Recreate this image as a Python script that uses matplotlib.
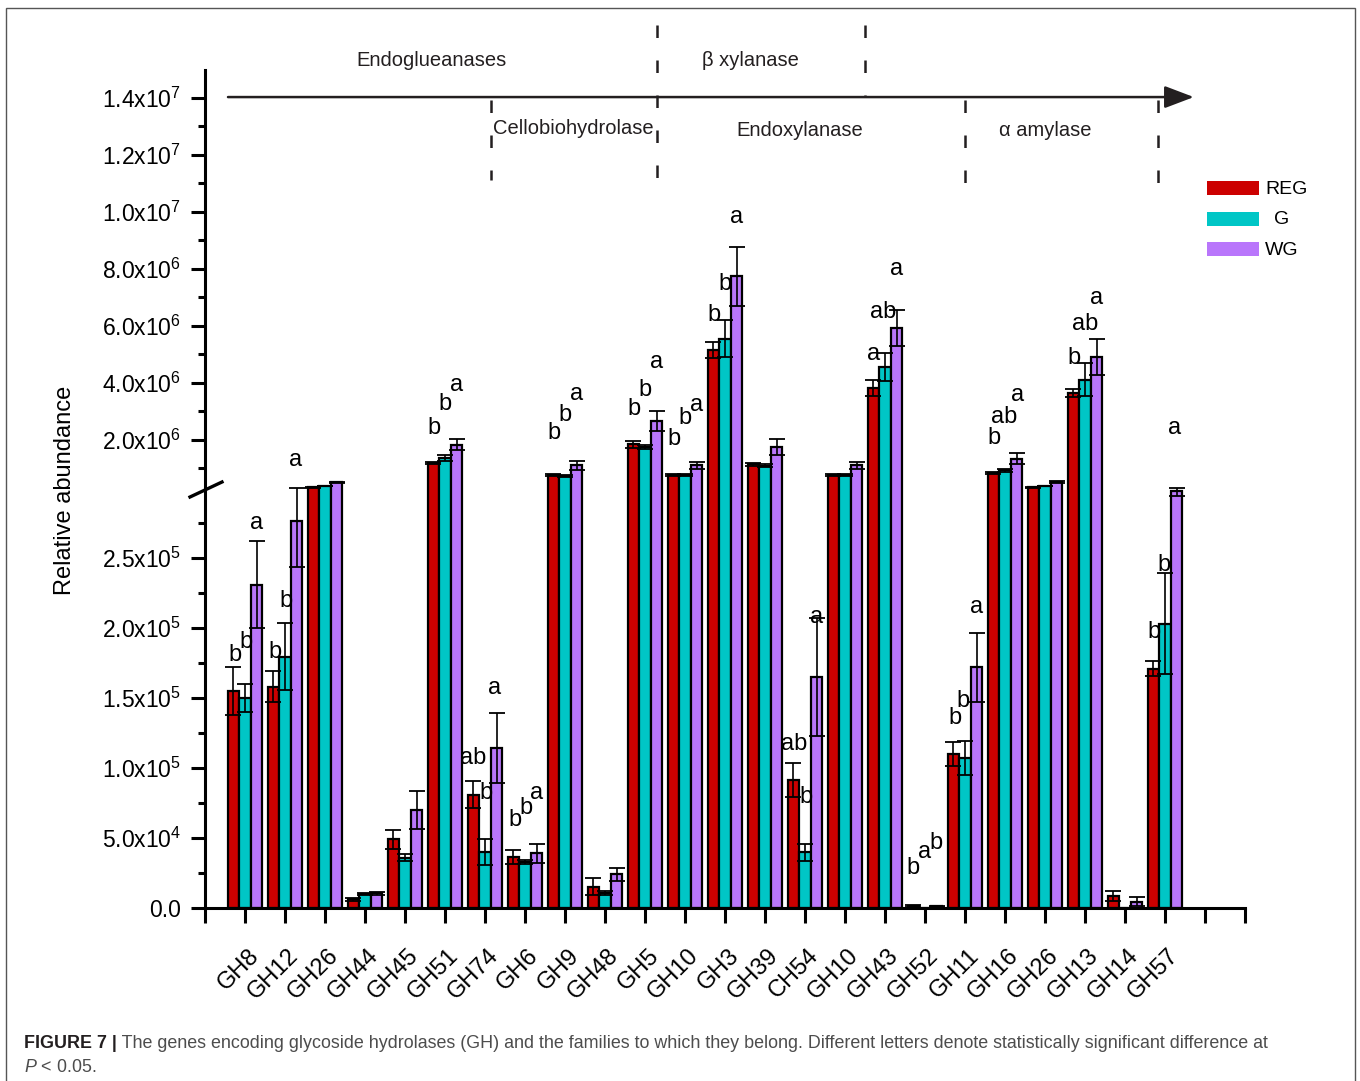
import numpy as np
import matplotlib
matplotlib.use('Agg')
import matplotlib.pyplot as plt
from matplotlib import font_manager, transforms
from matplotlib.patches import Rectangle
from matplotlib.lines import Line2D

plt.rcParams['font.family'] = ['Liberation Sans', 'DejaVu Sans']
plt.rcParams['mathtext.fontset'] = 'custom'
plt.rcParams['mathtext.rm'] = 'Liberation Sans'
plt.rcParams['mathtext.it'] = 'Liberation Sans:italic'
plt.rcParams['mathtext.bf'] = 'Liberation Sans:bold'

# data
genes = ['GH8', 'GH12', 'GH26', 'GH44', 'GH45', 'GH51', 'GH74', 'GH6', 'GH9', 'GH48',
         'GH5', 'GH10', 'GH3', 'GH39', 'CH54', 'GH10', 'GH43', 'GH52', 'GH11', 'GH16',
         'GH26', 'GH13', 'GH14', 'GH57']
reg = [155e3, 158e3, 0.33e6, 6.2e3, 49e3, 1.19e6, 81e3, 36.7e3, 0.75e6, 15.2e3,
       1.83e6, 0.77e6, 5.13e6, 1.13e6, 91.4e3, 0.77e6, 3.81e6, 1.5e3, 110e3, 0.84e6,
       0.33e6, 3.64e6, 8.6e3, 171e3]
reg_err = [17e3, 11e3, 0.015e6, 1e3, 6.5e3, 0.04e6, 9.5e3, 5e3, 0.04e6, 6e3,
           0.13e6, 0.03e6, 0.28e6, 0.06e6, 12.4e3, 0.03e6, 0.27e6, 700, 8.8e3, 0.03e6,
           0.015e6, 0.15e6, 3.6e3, 5.5e3]
g = [150e3, 179.5e3, 0.37e6, 10e3, 36e3, 1.357e6, 40e3, 32.6e3, 0.726e6, 10.5e3,
     1.74e6, 0.77e6, 5.54e6, 1.08e6, 39.7e3, 0.77e6, 4.55e6, 0, 107e3, 0.92e6,
     0.37e6, 4.1e6, 0, 203e3]
g_err = [10e3, 24e3, 0.015e6, 1e3, 2.5e3, 0.12e6, 9e3, 1.5e3, 0.03e6, 1.5e3,
         0.08e6, 0.03e6, 0.65e6, 0.05e6, 6e3, 0.03e6, 0.49e6, 0, 12e3, 0.05e6,
         0.015e6, 0.58e6, 0, 36e3]
wg = [231e3, 276.6e3, 0.5e6, 10.5e3, 70e3, 1.825e6, 114e3, 39e3, 1.1e6, 24e3,
      2.64e6, 1.1e6, 7.73e6, 1.73e6, 165e3, 1.1e6, 5.92e6, 1.2e3, 172e3, 1.33e6,
      0.5e6, 4.89e6, 4.5e3, 2.98e5]
wg_err = [31e3, 33e3, 0.02e6, 1e3, 13.6e3, 0.19e6, 25e3, 6.6e3, 0.15e6, 4.8e3,
          0.35e6, 0.12e6, 1.04e6, 0.28e6, 42e3, 0.12e6, 0.62e6, 500, 24.5e3, 0.2e6,
          0.03e6, 0.63e6, 3.1e3, 4e3]

# significance letters: (group index, x shift, height, letter)
letters = [
    (1, -0.25, 180.7e3, 'b'), (1, 0.02, 190e3, 'b'), (1, 0.28, 275e3, 'a'),
    (2, -0.25, 183e3, 'b'), (2, 0.02, 219.5e3, 'b'), (2, 0.27, 1.28e6, 'a'),
    (6, -0.27, 2.41e6, 'b'), (6, 0.0, 3.25e6, 'b'), (6, 0.28, 3.91e6, 'a'),
    (7, -0.3, 107e3, 'ab'), (7, 0.02, 82e3, 'b'), (7, 0.25, 157e3, 'a'),
    (8, -0.25, 62.9e3, 'b'), (8, 0.02, 71.4e3, 'b'), (8, 0.3, 82e3, 'a'),
    (9, -0.28, 2.23e6, 'b'), (9, 0.0, 2.86e6, 'b'), (9, 0.28, 3.6e6, 'a'),
    (11, -0.28, 3.07e6, 'b'), (11, 0.0, 3.74e6, 'b'), (11, 0.28, 4.72e6, 'a'),
    (12, -0.28, 2.02e6, 'b'), (12, 0.0, 2.76e6, 'b'), (12, 0.28, 3.21e6, 'a'),
    (13, -0.28, 6.37e6, 'b'), (13, 0.0, 7.46e6, 'b'), (13, 0.28, 9.81e6, 'a'),
    (15, -0.28, 117e3, 'ab'), (15, 0.02, 79e3, 'b'), (15, 0.28, 208e3, 'a'),
    (17, -0.28, 5.0e6, 'a'), (17, -0.05, 6.48e6, 'ab'), (17, 0.28, 7.98e6, 'a'),
    (18, -0.3, 28.6e3, 'b'), (18, 0.0, 40e3, 'a'), (18, 0.28, 46.4e3, 'b'),
    (19, -0.25, 136e3, 'b'), (19, -0.05, 148e3, 'b'), (19, 0.28, 215e3, 'a'),
    (20, -0.28, 2.05e6, 'b'), (20, -0.02, 2.8e6, 'ab'), (20, 0.32, 3.55e6, 'a'),
    (22, -0.28, 4.86e6, 'b'), (22, 0.0, 6.05e6, 'ab'), (22, 0.28, 6.97e6, 'a'),
    (24, -0.28, 197e3, 'b'), (24, -0.02, 245e3, 'b'), (24, 0.25, 2.41e6, 'a'),
]

ytick_vals = [0, 5e4, 1e5, 1.5e5, 2e5, 2.5e5, 2e6, 4e6, 6e6, 8e6, 1e7, 1.2e7, 1.4e7]
yminor_vals = [2.5e4, 7.5e4, 1.25e5, 1.75e5, 2.25e5, 2.75e5,
               1e6, 3e6, 5e6, 7e6, 9e6, 1.1e7, 1.3e7]

c_reg, c_g, c_wg = '#cc0000', '#00c6c6', '#b976fb'

# broken axis as a piecewise linear scale
B = 3e5
k_lo = 70 / 5e4
k_hi = 57 / 2e6


def fwd(v):
    v = np.asarray(v, dtype=float)
    return np.where(v <= B, v * k_lo, B * k_lo + (v - B) * k_hi)


def inv(p):
    p = np.asarray(p, dtype=float)
    return np.where(p <= B * k_lo, p / k_lo, B + (p - B * k_lo) / k_hi)


def sci(v):
    if v == 0:
        return '0.0'
    e = int(np.floor(np.log10(v)))
    return '%.1fx10$^{%d}$' % (v / 10 ** e, e)


W, H = 1360, 1081
fig = plt.figure(figsize=(13.6, 10.81), dpi=100)
ax = fig.add_axes([205 / W, 1 - 908 / H, 1040 / W, 838 / H])
ax.set_yscale('function', functions=(fwd, inv))

x = np.arange(1, len(genes) + 1)
bw = 0.29
for off, vals, errs, col in [(-bw, reg, reg_err, c_reg), (0, g, g_err, c_g), (bw, wg, wg_err, c_wg)]:
    ax.bar(x + off, vals, bw, color=col, edgecolor='black', linewidth=1.6, zorder=2)
    ax.errorbar(x + off, vals, yerr=errs, fmt='none', ecolor='black', elinewidth=1.2,
                capsize=5.5, capthick=1.3, zorder=3)

for gi, dx, yv, t in letters:
    ax.text(gi + dx, yv, t, ha='center', va='center', fontsize=17, zorder=4)

ax.set_xlim(0, 26)
ax.set_ylim(0, 1.497e7)
ax.set_xticks(np.arange(0, 27))
ax.set_xticklabels([''] + genes + ['', ''], rotation=45, ha='right', va='center',
                   rotation_mode='anchor')
ax.set_yticks(ytick_vals)
ax.set_yticklabels([sci(v) for v in ytick_vals])
ax.set_yticks(yminor_vals, minor=True)
ax.tick_params(axis='x', length=11, width=2.2, pad=21, labelsize=17)
ax.tick_params(axis='y', which='major', length=10, width=2.2, pad=7, labelsize=16.5)
ax.tick_params(axis='y', which='minor', length=5, width=2.2)
off = transforms.ScaledTranslation(7.5 / 72, 0, fig.dpi_scale_trans)
for lbl in ax.get_xticklabels():
    lbl.set_transform(lbl.get_transform() + off)
for s in ['top', 'right']:
    ax.spines[s].set_visible(False)
for s in ['left', 'bottom']:
    ax.spines[s].set_linewidth(2.2)

# break mark
fig.add_artist(Line2D([190 / W, 222 / W], [1 - 497 / H, 1 - 482 / H], color='black', lw=2.4))

fig.text(65 / W, 1 - 490 / H, 'Relative abundance', rotation=90, ha='center', va='center', fontsize=17)

# enzyme family arrow and brackets
ax.annotate('', xy=(24.72, 1.402e7), xytext=(0.575, 1.402e7),
            arrowprops=dict(arrowstyle='-|>,head_length=1.0,head_width=0.38', color='#231f20',
                            lw=1.8, mutation_scale=18, shrinkA=0, shrinkB=0),
            annotation_clip=False)
bt = transforms.blended_transform_factory(ax.transData, fig.transFigure)
for xd, y0, y1 in [(7.15, 100, 180), (11.3, 25, 180), (16.5, 25, 97), (19.0, 100, 183), (23.83, 100, 183)]:
    ax.plot([xd, xd], [1 - y0 / H, 1 - y1 / H], transform=bt, color='#231f20', lw=1.8,
            linestyle=(0, (5, 9)), clip_on=False)
for txt, xp, yp in [('Endoglueanases', 432, 60), ('β xylanase', 750, 60), ('Cellobiohydrolase', 573, 128),
                    ('Endoxylanase', 800, 130), ('α amylase', 1045, 130)]:
    fig.text(xp / W, 1 - yp / H, txt, ha='center', va='center', fontsize=14.5, color='#231f20')

# legend
for lab, col, yp, tx, ha in [('REG', c_reg, 188, 1265, 'left'), ('G', c_g, 219, 1282, 'center'),
                             ('WG', c_wg, 249, 1265, 'left')]:
    fig.add_artist(Rectangle((1207 / W, 1 - (yp + 7) / H), 52 / W, 14 / H, transform=fig.transFigure,
                             facecolor=col, edgecolor='none'))
    fig.text(tx / W, 1 - (yp + 1) / H, lab, ha=ha, va='center', fontsize=14)

# caption and frame
fnames = {f.name for f in font_manager.fontManager.ttflist}
if 'Liberation Sans Narrow' in fnames:
    cfam, csize = 'Liberation Sans Narrow', 14
else:
    cfam, csize = 'Liberation Sans', 12.9
t1 = fig.text(24 / W, 1 - 1043 / H, 'FIGURE 7 |', family=cfam, fontsize=csize, fontweight='bold',
              color='#231f20', va='center', ha='left')
ax.annotate(' The genes encoding glycoside hydrolases (GH) and the families to which they belong. '
            'Different letters denote statistically significant difference at',
            xy=(1, 0.5), xycoords=t1, va='center', ha='left', family=cfam, fontsize=csize,
            color='#4d4d4d')
fig.text(24 / W, 1 - 1067 / H, r'$P$ < 0.05.', family=cfam, fontsize=csize, color='#4d4d4d',
         va='center', ha='left')
fig.add_artist(Rectangle((6 / W, -0.01), 1349 / W, 1 - 8 / H + 0.01, transform=fig.transFigure,
                         fill=False, edgecolor='#555555', lw=1.0))

fig.savefig('out.png', dpi=100)
